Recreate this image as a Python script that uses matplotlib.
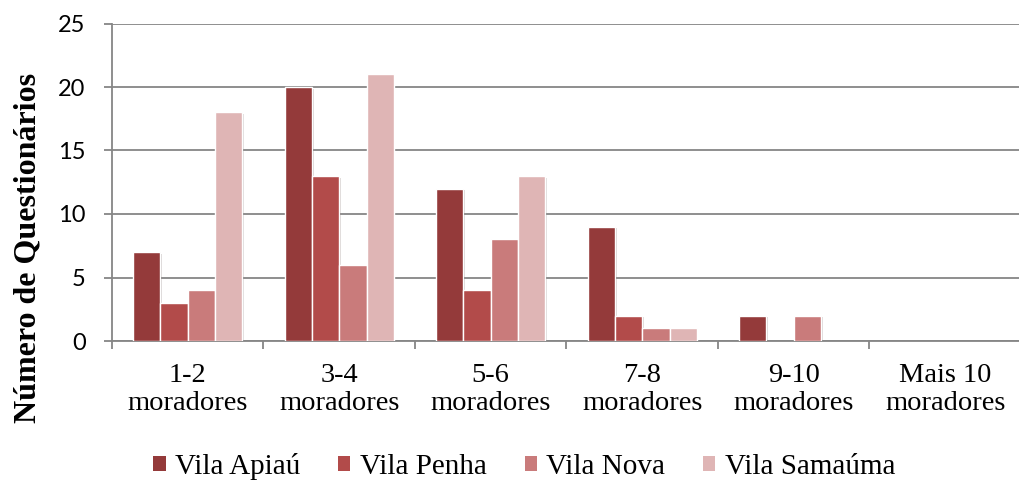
import matplotlib
matplotlib.use("Agg")
import matplotlib.pyplot as plt
import matplotlib.patheffects as pe
from matplotlib.patches import Patch
import numpy as np

categories = ["1-2\nmoradores", "3-4\nmoradores", "5-6\nmoradores",
              "7-8\nmoradores", "9-10\nmoradores", "Mais 10\nmoradores"]
series_names = ["Vila Apiaú", "Vila Penha", "Vila Nova", "Vila Samaúma"]
vila_apiau = [7, 20, 12, 9, 2, 0]
vila_penha = [3, 13, 4, 2, 0, 0]
vila_nova = [4, 6, 8, 1, 2, 0]
vila_samauma = [18, 21, 13, 1, 0, 0]
colors = ["#943A3A", "#B24B4A", "#C97B7B", "#DFB5B5"]
yticks = [0, 5, 10, 15, 20, 25]

series = [vila_apiau, vila_penha, vila_nova, vila_samauma]

fig = plt.figure(figsize=(10.2, 4.82), dpi=100)
ax = fig.add_axes([112/1020, 1-341/482, 909/1020, (341-23.5)/482])

x = np.arange(len(categories))
w = 0.18
for j, (vals, col, name) in enumerate(zip(series, colors, series_names)):
    bars = ax.bar(x + (j - 1.5) * w, vals, width=w, color=col,
                  edgecolor="white", linewidth=1.0, zorder=3, label=name)
    for b, v in zip(bars, vals):
        if v > 0:
            b.set_path_effects([pe.SimplePatchShadow(offset=(1.2, -1.2), alpha=0.18),
                                pe.Normal()])
        else:
            b.set_visible(False)

ax.set_xlim(-0.5, len(categories) - 0.5)
ax.set_ylim(0, 25)
ax.set_yticks(yticks)
ax.yaxis.grid(True, color="#868686", linewidth=1.3, zorder=0)
ax.set_axisbelow(True)

for s in ["top", "right"]:
    ax.spines[s].set_visible(False)
for s in ["left", "bottom"]:
    ax.spines[s].set_color("#868686")
    ax.spines[s].set_linewidth(1.3)

ax.set_xticks(np.arange(len(categories) + 1) - 0.5)
ax.set_xticklabels([])
ax.set_xticks(x, minor=True)
ax.set_xticklabels(categories, minor=True, family="Liberation Serif",
                   fontsize=20.5, linespacing=1.15)
ax.tick_params(axis="x", which="major", length=6, width=1.3, color="#868686", direction="out")
ax.tick_params(axis="x", which="minor", length=0, pad=16)
ax.tick_params(axis="y", length=6, width=1.3, color="#868686", pad=13, labelsize=17)
for t in ax.get_yticklabels():
    t.set_family("Lato")

fig.text(28/1020, 1-248/482, "Número de Questionários", rotation=90,
         ha="center", va="center", family="Liberation Serif", fontweight="bold",
         fontsize=23)

handles = [Patch(facecolor=c, edgecolor="none") for c in colors]
fig.legend(handles, series_names, loc="center", bbox_to_anchor=(0.514, 1-466/482),
           ncol=4, frameon=False, prop={"family": "Liberation Serif", "size": 21},
           handlelength=0.42, handleheight=0.42, handletextpad=0.32,
           columnspacing=1.3, borderaxespad=0, borderpad=0)

fig.savefig("out.png", dpi=100)
